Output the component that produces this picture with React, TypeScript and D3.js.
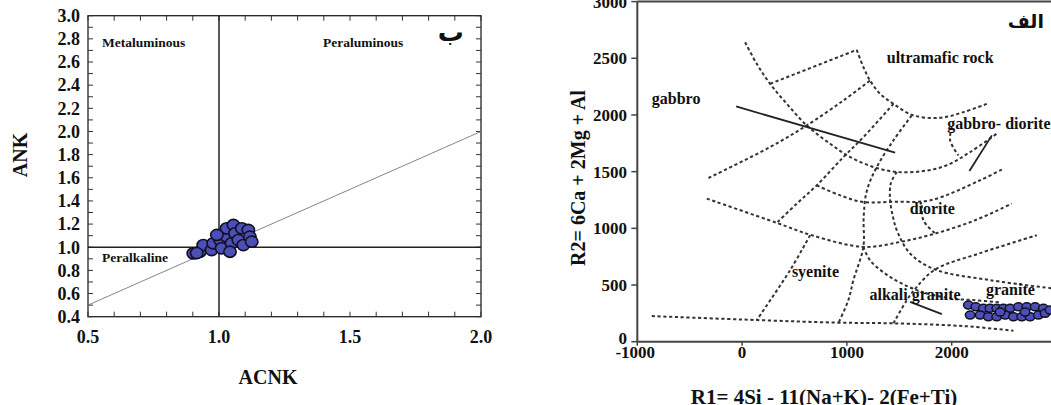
import React from "react";
import * as d3 from "d3";

// ---------- Left panel data (ACNK vs ANK) ----------
const acnkTicks = [0.5, 1.0, 1.5, 2.0];
const ankTicks = [0.4, 0.6, 0.8, 1.0, 1.2, 1.4, 1.6, 1.8, 2.0, 2.2, 2.4, 2.6, 2.8, 3.0];
const sampleACNK = [0.902, 0.927, 0.94, 0.972, 0.978, 1.004, 1.01, 1.029, 1.029, 1.055, 1.048, 1.061, 1.074, 1.093, 1.087, 1.112, 1.118, 1.125, 1.042, 0.992, 0.915];
const sampleANK = [0.947, 0.961, 1.019, 0.976, 1.034, 1.063, 0.991, 1.091, 1.163, 1.192, 1.034, 1.12, 1.062, 1.019, 1.163, 1.149, 1.091, 1.048, 0.961, 1.106, 0.95];
const diagonalLine: [number, number][] = [[0.5, 0.5], [2.0, 2.0]];

// ---------- Right panel data (R1 vs R2) ----------
const r1Ticks = [-1000, 0, 1000, 2000];
const r2Ticks = [0, 500, 1000, 1500, 2000, 2500, 3000];
const sampleR1 = [2159, 2230, 2302, 2366, 2430, 2493, 2557, 2636, 2717, 2796, 2875, 2176, 2271, 2350, 2430, 2510, 2589, 2669, 2748, 2827, 2891, 2462, 2700, 2939];
const sampleR2 = [323, 308, 294, 294, 294, 294, 294, 308, 308, 308, 294, 235, 235, 220, 220, 235, 220, 220, 220, 235, 250, 261, 261, 279];

const bottomBoundary: [number, number][] = [[-862, 226], [140, 191], [919, 168], [1444, 162], [2112, 138], [2589, 97]];
const syeniteTop: [number, number][] = [[-337, 1262], [331, 1048], [665, 939], [1157, 836], [1508, 880], [1842, 954], [2223, 1071], [2573, 1218]];
const gabbroRiseLine: [number, number][] = [[-321, 1444], [267, 1717], [617, 1908], [967, 2128], [1221, 2304]];
const topShortLine: [number, number][] = [[267, 2275], [1094, 2574]];
const bigCurve: [number, number][] = [[29, 2641], [140, 2451], [267, 2275], [426, 2099], [617, 1908], [840, 1746], [1031, 1629], [1253, 1541], [1476, 1497], [1730, 1505], [1953, 1556], [2176, 1673], [2430, 1835]];
const ultramaficCurve: [number, number][] = [[1094, 2574], [1158, 2421], [1221, 2304], [1317, 2186], [1444, 2098], [1635, 1996], [1889, 1975], [2112, 2025], [2335, 2098]];
const crossLine: [number, number][] = [[1444, 2098], [1158, 1805], [967, 1629], [712, 1379], [522, 1218], [331, 1048]];
const outerCurve: [number, number][] = [[1619, 1996], [1444, 1776], [1285, 1541], [1190, 1330], [1160, 1100], [1157, 836], [1062, 543], [1014, 367], [919, 165]];
const innerCurve: [number, number][] = [[1476, 1497], [1420, 1400], [1412, 1250], [1440, 1100], [1476, 983], [1603, 778], [1842, 637], [2366, 543], [2967, 470]];
const alkaliCurve: [number, number][] = [[1157, 836], [1221, 718], [1412, 572], [1667, 455], [1985, 382], [2208, 367], [2462, 348]];
const graniteLine: [number, number][] = [[1444, 162], [1572, 367], [1667, 484], [1842, 637], [2271, 781], [2812, 939]];
const dioriteTop: [number, number][] = [[712, 1379], [935, 1291], [1157, 1232], [1450, 1235], [1794, 1247], [2271, 1424], [2493, 1526]];
const syeniteSide: [number, number][] = [[649, 939], [458, 631], [140, 191]];
const dioriteSmall: [number, number][] = [[1715, 1203], [1730, 1071], [1842, 954]];
const gabbroDioriteSmall: [number, number][] = [[2001, 1893], [1985, 1776], [2064, 1644]];
const dashedBoundaries = [bottomBoundary, syeniteTop, gabbroRiseLine, topShortLine, bigCurve, ultramaficCurve, crossLine, outerCurve, innerCurve, alkaliCurve, graniteLine, dioriteTop, syeniteSide, dioriteSmall, gabbroDioriteSmall];

const gabbroTrend: [number, number][] = [[-57, 2075], [1460, 1667]];
const gabbroDioriteTrend: [number, number][] = [[2383, 1820], [2169, 1505]];
const alkaliTrend: [number, number][] = [[1603, 352], [1906, 244]];
const solidTrends = [gabbroTrend, gabbroDioriteTrend, alkaliTrend];

const fieldLabels: { text: string; r1: number; r2: number }[] = [
  { text: "ultramafic rock", r1: 1890, r2: 2455 },
  { text: "gabbro", r1: -630, r2: 2100 },
  { text: "gabbro- diorite", r1: 2450, r2: 1875 },
  { text: "diorite", r1: 1815, r2: 1130 },
  { text: "syenite", r1: 700, r2: 575 },
  { text: "alkali granite", r1: 1650, r2: 365 },
  { text: "granite", r1: 2560, r2: 410 },
];

const SERIF = "'Liberation Serif', 'Times New Roman', serif";
const DOT_FILL = "#4c4fb8";
const DOT_STROKE = "#111122";

function LeftPanel() {
  const x = d3.scaleLinear().domain([0.5, 2.0]).range([88, 481]);
  const y = d3.scaleLinear().domain([0.4, 3.0]).range([316.7, 15.7]);
  const minorX = d3.range(5, 21).map((v) => v / 10);
  const minorY = d3.range(4, 31).map((v) => v / 10);
  const line = d3.line<[number, number]>().x((d) => x(d[0])).y((d) => y(d[1]));
  return (
    <g>
      <rect x={x(0.5)} y={y(3.0)} width={x(2.0) - x(0.5)} height={y(0.4) - y(3.0)} fill="none" stroke="#222" strokeWidth={1.3} />
      {minorY.map((v, i) => (
        <g key={"my" + i}>
          <line x1={x(0.5)} x2={x(0.5) + 5} y1={y(v)} y2={y(v)} stroke="#333" strokeWidth={1} />
          <line x1={x(2.0)} x2={x(2.0) - 5} y1={y(v)} y2={y(v)} stroke="#333" strokeWidth={1} />
        </g>
      ))}
      {minorX.map((v, i) => (
        <g key={"mx" + i}>
          <line x1={x(v)} x2={x(v)} y1={y(0.4)} y2={y(0.4) - 5} stroke="#333" strokeWidth={1} />
          <line x1={x(v)} x2={x(v)} y1={y(3.0)} y2={y(3.0) + 5} stroke="#333" strokeWidth={1} />
        </g>
      ))}
      <line x1={x(1.0)} x2={x(1.0)} y1={y(0.4)} y2={y(3.0)} stroke="#222" strokeWidth={1.5} />
      <line x1={x(0.5)} x2={x(2.0)} y1={y(1.0)} y2={y(1.0)} stroke="#222" strokeWidth={1.5} />
      <path d={line(diagonalLine) || ""} stroke="#777" strokeWidth={0.9} fill="none" />
      {ankTicks.map((t) => (
        <text key={"yt" + t} x={80} y={y(t)} dy="0.35em" textAnchor="end" fontFamily={SERIF} fontWeight="bold" fontSize={18} fill="#111">
          {t.toFixed(1)}
        </text>
      ))}
      {acnkTicks.map((t) => (
        <text key={"xt" + t} x={x(t)} y={343} textAnchor="middle" fontFamily={SERIF} fontWeight="bold" fontSize={18} fill="#111">
          {t.toFixed(1)}
        </text>
      ))}
      <text x={268} y={384} textAnchor="middle" fontFamily={SERIF} fontWeight="bold" fontSize={20} fill="#111">ACNK</text>
      <text transform="translate(27,155) rotate(-90)" textAnchor="middle" fontFamily={SERIF} fontWeight="bold" fontSize={20} fill="#111">ANK</text>
      <text x={102} y={47} fontFamily={SERIF} fontWeight="bold" fontSize={13.5} fill="#111">Metaluminous</text>
      <text x={323} y={47} fontFamily={SERIF} fontWeight="bold" fontSize={13.5} fill="#111">Peraluminous</text>
      <text x={102} y={262} fontFamily={SERIF} fontWeight="bold" fontSize={13.5} fill="#111">Peralkaline</text>
      <text x={464} y={41} textAnchor="end" fontFamily="'DejaVu Sans', sans-serif" fontWeight="bold" fontSize={26} fill="#111">ب</text>
      {sampleACNK.map((v, i) => (
        <ellipse key={"lp" + i} cx={x(v)} cy={y(sampleANK[i])} rx={6.2} ry={5.6} fill={DOT_FILL} stroke={DOT_STROKE} strokeWidth={1.6} />
      ))}
    </g>
  );
}

function RightPanel() {
  const x = d3.scaleLinear().domain([-1000, 2000]).range([637.3, 951.7]);
  const y = d3.scaleLinear().domain([0, 3000]).range([341.7, 1.6]);
  const curve = d3.line<[number, number]>().x((d) => x(d[0])).y((d) => y(d[1])).curve(d3.curveCatmullRom.alpha(0.5));
  const straight = d3.line<[number, number]>().x((d) => x(d[0])).y((d) => y(d[1]));
  return (
    <g>
      {dashedBoundaries.map((b, i) => (
        <path key={"db" + i} d={curve(b) || ""} fill="none" stroke="#333" strokeWidth={2} strokeDasharray="3.2,2.6" />
      ))}
      {solidTrends.map((b, i) => (
        <path key={"st" + i} d={straight(b) || ""} fill="none" stroke="#222" strokeWidth={1.8} />
      ))}
      <line x1={x(-1000)} x2={1060} y1={y(3000)} y2={y(3000)} stroke="#444" strokeWidth={2} />
      <line x1={x(-1000)} x2={1060} y1={y(0)} y2={y(0)} stroke="#444" strokeWidth={2} />
      <line x1={x(-1000)} x2={x(-1000)} y1={y(0)} y2={y(3000)} stroke="#444" strokeWidth={2} />
      {r2Ticks.map((t) => (
        <g key={"r2" + t}>
          <line x1={x(-1000) - 6} x2={x(-1000)} y1={y(t)} y2={y(t)} stroke="#444" strokeWidth={1.5} />
          <text x={627} y={t === 0 ? y(t) - 4 : y(t)} dy="0.35em" textAnchor="end" fontFamily={SERIF} fontWeight="bold" fontSize={17} fill="#111">
            {t}
          </text>
        </g>
      ))}
      {r1Ticks.map((t) => (
        <g key={"r1" + t}>
          <line x1={x(t)} x2={x(t)} y1={y(0)} y2={y(0) + 4} stroke="#444" strokeWidth={1.5} />
          <text x={t === -1000 ? x(t) - 2 : x(t)} y={358} textAnchor="middle" fontFamily={SERIF} fontWeight="bold" fontSize={17} fill="#111">
            {t}
          </text>
        </g>
      ))}
      <text x={824} y={404} textAnchor="middle" fontFamily={SERIF} fontWeight="bold" fontSize={21} fill="#111">R1= 4Si - 11(Na+K)- 2(Fe+Ti)</text>
      <text transform="translate(585,178) rotate(-90)" textAnchor="middle" fontFamily={SERIF} fontWeight="bold" fontSize={20} fill="#111">R2= 6Ca + 2Mg + Al</text>
      {fieldLabels.map((l) => (
        <text key={l.text} x={x(l.r1)} y={y(l.r2)} textAnchor="middle" fontFamily={SERIF} fontWeight="bold" fontSize={16} fill="#111">
          {l.text}
        </text>
      ))}
      <text x={1044} y={28} textAnchor="end" fontFamily="'DejaVu Sans', sans-serif" fontWeight="bold" fontSize={19} fill="#111">الف</text>
      {sampleR1.map((v, i) => (
        <ellipse key={"rp" + i} cx={x(v)} cy={y(sampleR2[i])} rx={4.8} ry={4.0} fill={DOT_FILL} stroke={DOT_STROKE} strokeWidth={1.5} />
      ))}
    </g>
  );
}

export default function App() {
  return (
    <svg width={1051} height={405} style={{ position: "absolute", left: 0, top: 0, background: "#fff" }}>
      <rect x={0} y={0} width={1051} height={405} fill="#fff" />
      <LeftPanel />
      <RightPanel />
    </svg>
  );
}
